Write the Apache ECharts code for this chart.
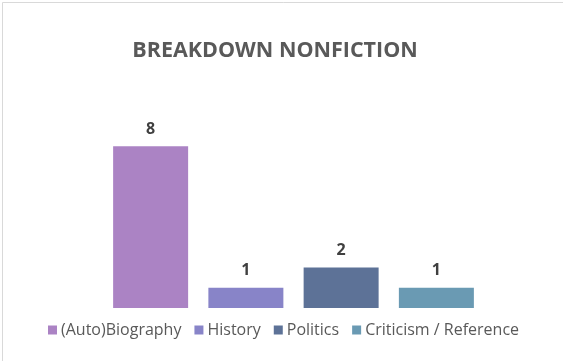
<!DOCTYPE html>
<html><head><meta charset="utf-8">
<script src="https://cdn.jsdelivr.net/npm/echarts@6/dist/echarts.min.js"></script>
<style>html,body{margin:0;padding:0;background:#fff}#c{width:563px;height:361px}</style>
</head><body><div id="c"></div>
<script>
const titleText = 'BREAKDOWN NONFICTION';
const categories = ['Nonfiction'];
const seriesNames = ['(Auto)Biography', 'History', 'Politics', 'Criticism / Reference'];
const seriesValues = [8, 1, 2, 1];
const seriesColors = ['#AB83C4', '#8884C8', '#5D7297', '#6A9AB3'];

const chart = echarts.init(document.getElementById('c'), null, {renderer: 'canvas'});
const series = seriesNames.map((n, i) => ({
  name: n, type: 'bar', data: [seriesValues[i]],
  barWidth: 75, barGap: '27%',
  itemStyle: {color: seriesColors[i]},
  label: {show: true, position: 'top', distance: 9, color: '#404040', fontSize: 16, fontWeight: 'bold', fontFamily: 'Open Sans'}
}));
chart.setOption({
  animation: false,
  backgroundColor: '#fff',
  graphic: [{type: 'rect', left: 0, top: 0, shape: {x: 0.5, y: 0.5, width: 562, height: 360}, style: {fill: 'none', stroke: '#d9d9d9', lineWidth: 1}, silent: true}],
  title: {text: titleText, left: 270, top: 35, textAlign: 'center',
    textStyle: {fontFamily: 'Open Sans', fontSize: 21.5, fontWeight: 'bold', color: '#595959'}},
  legend: {data: seriesNames, top: 317, left: 43, itemWidth: 9, itemHeight: 9, itemGap: 13, icon: 'rect',
    textStyle: {fontFamily: 'Open Sans', fontSize: 16, color: '#595959', padding: [0,0,0,-1]}},
  grid: {left: 30, right: 6, top: 126, bottom: 53},
  xAxis: {type: 'category', data: categories, show: false},
  yAxis: {type: 'value', min: 0, max: 9, show: false},
  series: series
});
</script></body></html>
